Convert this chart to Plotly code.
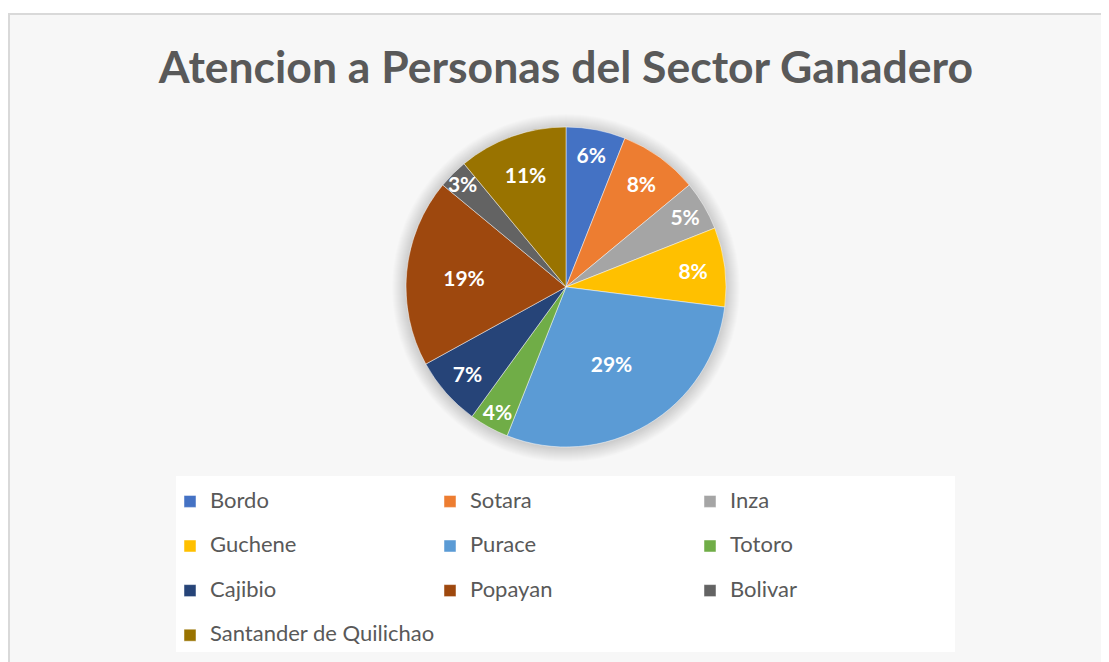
import plotly.graph_objects as go

# ---- data ----
municipios = ["Bordo", "Sotara", "Inza", "Guchene", "Purace", "Totoro",
              "Cajibio", "Popayan", "Bolivar", "Santander de Quilichao"]
porcentajes = [6, 8, 5, 8, 29, 4, 7, 19, 3, 11]
colores = ["#4472C4", "#ED7D31", "#A5A5A5", "#FFC000", "#5B9BD5", "#70AD47",
           "#264478", "#9E480E", "#636363", "#997300"]
titulo = "Atencion a Personas del Sector Ganadero"

# ---- layout helpers (page body has an 8px margin) ----
OFF = 8
W, H = 1109 - OFF, 662 - OFF
ML, MR, MT, MB = 150, W - 150 - 900, 0, 0
PW = W - ML - MR
PH = H - MT - MB


def px(x):
    return (x - OFF - ML) / PW


def py(y):
    return 1 - (y - OFF - MT) / PH


FONT = "Lato"
TXT = "#595959"

legend_labels = [f'<span style="font-size:22px">{m}</span><br> ' for m in municipios]

cx, cy, R = 566, 287, 160

fig = go.Figure()
fig.add_trace(go.Pie(
    labels=legend_labels,
    values=porcentajes,
    customdata=municipios,
    sort=False,
    direction="clockwise",
    rotation=0,
    marker=dict(colors=colores, line=dict(color="rgba(255,255,255,0.6)", width=0.8)),
    texttemplate="%{percent:.0%}",
    textposition="inside",
    insidetextorientation="horizontal",
    textfont=dict(family=FONT, size=21, color="white", weight=700),
    hovertemplate="%{customdata}: %{percent:.0%}<extra></extra>",
    domain=dict(x=[px(cx - R), px(cx + R)], y=[py(cy + R), py(cy - R)]),
))

shapes = [
    # chart area frame
    dict(type="rect", xref="paper", yref="paper",
         x0=px(9), x1=px(1109 + 20), y0=py(662 + 20), y1=py(14),
         fillcolor="#F7F7F7", line=dict(color="#D9D9D9", width=2), layer="below"),
    # legend box
    dict(type="rect", xref="paper", yref="paper",
         x0=px(176), x1=px(955), y0=py(652), y1=py(476),
         fillcolor="#FFFFFF", line=dict(width=0), layer="below"),
]
for k in range(1, 15):
    r = R + k
    shapes.append(dict(type="circle", xref="paper", yref="paper",
                       x0=px(cx - r), x1=px(cx + r), y0=py(cy + r + 1), y1=py(cy - r + 1),
                       fillcolor="rgba(0,0,0,0.012)", line=dict(width=0), layer="below"))

fig.update_layout(
    width=W, height=H,
    margin=dict(l=ML, r=MR, t=MT, b=MB, autoexpand=False),
    paper_bgcolor="white",
    plot_bgcolor="rgba(0,0,0,0)",
    font=dict(family=FONT, color=TXT),
    title=dict(text=titulo, x=(566 - OFF) / W, xref="container", xanchor="center",
               y=1 - (67 - OFF) / H, yref="container", yanchor="middle",
               font=dict(family=FONT, size=44.5, color=TXT, weight=700)),
    showlegend=True,
    legend=dict(orientation="h", x=px(170), xanchor="left", y=py(484.5), yanchor="top",
                entrywidth=215, entrywidthmode="pixels", valign="top",
                font=dict(family=FONT, size=16, color=TXT),
                bgcolor="rgba(0,0,0,0)", traceorder="normal"),
    uniformtext=dict(minsize=21, mode="show"),
    shapes=shapes,
)

fig.write_html("out.html")
